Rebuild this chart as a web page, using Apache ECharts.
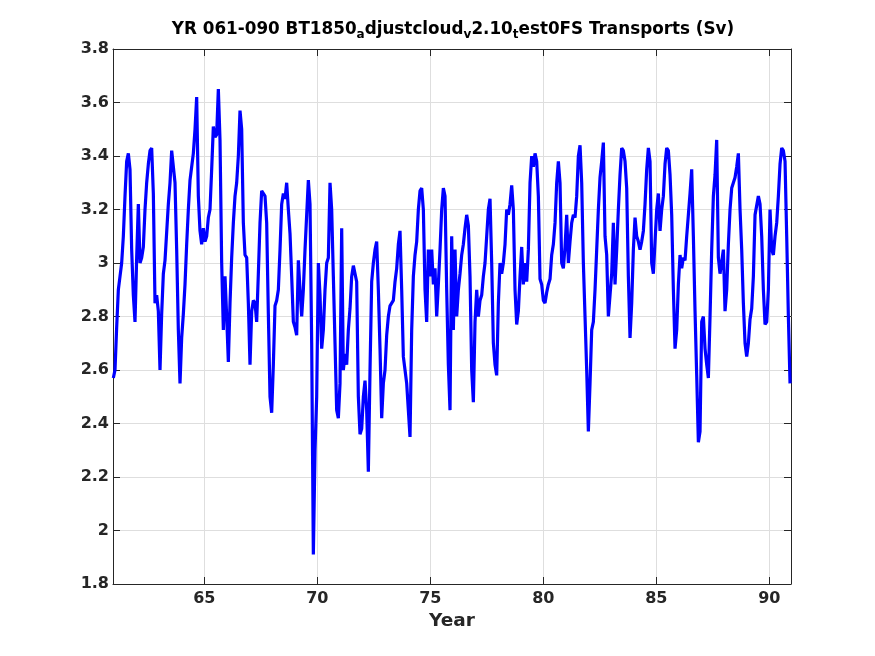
<!DOCTYPE html>
<html style="height: 100%">
<head>
  <meta charset="utf-8">
  <title>Transports (Sv)</title>
  <script type="text/javascript" src="https://fastly.jsdelivr.net/npm/echarts@6/dist/echarts.min.js"></script>
</head>
<body style="height: 100%; margin: 0; background: #fff">
  <div id="chart" style="width: 875px; height: 656px"></div>

  <script type="text/javascript">
    // transport values (Sv) at a regular time step
    var sv61to65 = [2.57, 2.6, 2.76, 2.9, 2.95, 3.0, 3.1, 3.25, 3.38, 3.41, 3.35, 3.05, 2.88, 2.78, 3.02, 3.22, 3.0, 3.02, 3.06, 3.2,
      3.3, 3.37, 3.42, 3.43, 3.26, 2.85, 2.88, 2.82, 2.6, 2.81, 2.96, 3.01, 3.01, 3.22, 3.3, 3.42, 3.42, 3.3, 3.05, 2.75,
      2.55, 2.72, 2.81, 2.92, 3.07, 3.2, 3.31, 3.36, 3.41, 3.5, 3.62, 3.25];
    var sv65to69 = [3.12, 3.07, 3.13, 3.08, 3.1, 3.17, 3.2, 3.35, 3.51, 3.47, 3.48, 3.65, 3.46, 3.0, 2.75, 2.95, 2.8, 2.63, 2.85, 3.02,
      3.15, 3.25, 3.3, 3.4, 3.57, 3.5, 3.15, 3.03, 3.02, 2.85, 2.62, 2.82, 2.86, 2.85, 2.78, 2.96, 3.15, 3.27, 3.27, 3.25,
      3.15, 2.81, 2.5, 2.44, 2.62, 2.84, 2.86, 2.9, 3.05, 3.22, 3.26, 3.24, 3.3, 3.2, 3.11, 2.95, 2.78, 2.76, 2.73, 3.01];
    var sv69to73 = [2.9, 2.8, 2.9, 3.05, 3.18, 3.31, 3.22, 2.7, 1.91, 2.3, 2.5, 3.0, 2.88, 2.68, 2.75, 2.9, 3.0, 3.02, 3.3, 3.2,
      2.95, 2.7, 2.45, 2.42, 2.55, 3.13, 2.6, 2.66, 2.62, 2.75, 2.83, 2.95, 2.99, 2.99, 2.93, 2.5, 2.36, 2.38, 2.5, 2.56,
      2.45, 2.22, 2.6, 2.93, 3.0, 3.05, 3.08, 2.9, 2.68, 2.42, 2.55, 2.6, 2.73, 2.8, 2.84, 2.84, 2.86, 2.93, 2.98, 3.07];
    var sv73to78 = [3.12, 2.9, 2.65, 2.6, 2.55, 2.45, 2.35, 2.75, 2.95, 3.03, 3.08, 3.2, 3.27, 3.28, 3.2, 2.9, 2.78, 3.05, 2.95, 3.05,
      2.92, 2.98, 2.8, 2.92, 3.05, 3.2, 3.28, 3.25, 2.9, 2.62, 2.45, 3.1, 2.75, 3.05, 2.8, 2.9, 2.96, 3.03, 3.07, 3.13,
      3.18, 3.14, 2.95, 2.6, 2.48, 2.78, 2.9, 2.8, 2.86, 2.88, 2.95, 3.0, 3.1, 3.2, 3.24, 3.0, 2.7, 2.62, 2.58, 2.85];
    var sv78to82 = [3.0, 2.96, 3.0, 3.07, 3.2, 3.18, 3.22, 3.29, 3.2, 2.9, 2.77, 2.82, 2.95, 3.06, 2.92, 3.0, 2.93, 3.05, 3.3, 3.4,
      3.36, 3.41, 3.38, 3.25, 2.94, 2.92, 2.86, 2.85, 2.89, 2.92, 2.94, 3.03, 3.07, 3.15, 3.3, 3.38, 3.3, 3.0, 2.98, 3.06,
      3.18, 3.0, 3.08, 3.15, 3.18, 3.17, 3.25, 3.4, 3.44, 3.3, 3.0, 2.8, 2.6, 2.37, 2.55, 2.75, 2.78, 2.9, 3.05, 3.2];
    var sv82to87 = [3.32, 3.38, 3.45, 3.1, 3.03, 2.8, 2.88, 2.96, 3.15, 2.92, 3.05, 3.2, 3.33, 3.43, 3.42, 3.38, 3.28, 2.95, 2.72, 2.85,
      3.05, 3.17, 3.1, 3.08, 3.05, 3.08, 3.12, 3.22, 3.35, 3.43, 3.38, 3.0, 2.96, 3.08, 3.2, 3.26, 3.12, 3.2, 3.25, 3.37,
      3.43, 3.42, 3.33, 3.18, 2.9, 2.68, 2.75, 2.92, 3.03, 2.98, 3.02, 3.01, 3.1, 3.18, 3.26, 3.35, 3.1, 2.82, 2.58, 2.33];
    var sv87to91 = [2.37, 2.78, 2.8, 2.68, 2.62, 2.57, 2.8, 3.05, 3.25, 3.33, 3.46, 3.02, 2.96, 2.96, 3.05, 2.82, 2.9, 3.07, 3.2, 3.28,
      3.3, 3.32, 3.36, 3.41, 3.2, 3.05, 2.85, 2.7, 2.65, 2.7, 2.79, 2.83, 2.95, 3.18, 3.18, 3.25, 3.22, 3.1, 2.9, 2.77,
      2.78, 2.9, 3.2, 3.05, 3.03, 3.1, 3.15, 3.25, 3.37, 3.43, 3.42, 3.38, 3.1, 2.8, 2.55];

    var yearStart = 60.975;   // first sample
    var yearStep = 0.07375;   // sampling step in years
    var xMin = 60.96, xMax = 90.96;
    var yearTicks = [65, 70, 75, 80, 85, 90];
    var titleParts = ['YR 061-090 BT1850', 'a', 'djustcloud', 'v', '2.10', 't', 'est0FS Transports (Sv)'];

    var values = [].concat(sv61to65, sv65to69, sv69to73, sv73to78, sv78to82, sv82to87, sv87to91);
    var seriesData = values.map(function (v, i) { return [yearStart + i * yearStep, v]; });

    // every second part is a subscript (tex style underscores)
    var titleText = titleParts.map(function (p, i) {
      return (i % 2 ? '{s|' : '{m|') + p + '}';
    }).join('');

    var ink = '#262626';
    var font = 'DejaVu Sans';

    var chart = echarts.init(document.getElementById('chart'));
    var tickIn = { show: true, inside: true, length: 7, lineStyle: { color: ink, width: 1 } };

    var option = {
      animation: false,
      backgroundColor: '#fff',
      grid: { left: 113, right: 84, top: 49, bottom: 72, containLabel: false },
      graphic: [{
        type: 'text',
        x: 453,
        y: 21,
        style: {
          text: titleText,
          align: 'center',
          verticalAlign: 'top',
          rich: {
            m: { fontFamily: font, fontWeight: 'bold', fontSize: 16.8, fill: '#000', lineHeight: 18, verticalAlign: 'top' },
            s: { fontFamily: font, fontWeight: 'bold', fontSize: 12, fill: '#000', lineHeight: 14, padding: [8, 0, 0, 0], verticalAlign: 'top' }
          }
        }
      }],
      xAxis: [{
        type: 'value',
        min: xMin,
        max: xMax,
        name: 'Year',
        nameLocation: 'middle',
        nameGap: 18,
        nameTextStyle: { fontFamily: font, fontWeight: 'bold', fontSize: 18.5, color: ink },
        axisLine: { show: true, onZero: false, lineStyle: { color: ink, width: 1 } },
        axisTick: Object.assign({ customValues: yearTicks }, tickIn),
        axisLabel: { customValues: yearTicks, fontFamily: font, fontWeight: 'bold', fontSize: 16, color: ink, margin: 7 },
        splitLine: { show: true, lineStyle: { color: '#dedede', width: 1 } }
      }, {
        type: 'value',
        position: 'top',
        min: xMin,
        max: xMax,
        axisLine: { show: true, onZero: false, lineStyle: { color: ink, width: 1 } },
        axisTick: Object.assign({ customValues: yearTicks }, tickIn),
        axisLabel: { show: false },
        splitLine: { show: false }
      }],
      yAxis: [{
        type: 'value',
        min: 1.8,
        max: 3.8,
        interval: 0.2,
        axisLine: { show: true, lineStyle: { color: ink, width: 1 } },
        axisTick: tickIn,
        axisLabel: { fontFamily: font, fontWeight: 'bold', fontSize: 16, color: ink, margin: 4 },
        splitLine: { show: true, lineStyle: { color: '#dedede', width: 1 } }
      }, {
        type: 'value',
        position: 'right',
        min: 1.8,
        max: 3.8,
        interval: 0.2,
        axisLine: { show: true, lineStyle: { color: ink, width: 1 } },
        axisTick: tickIn,
        axisLabel: { show: false },
        splitLine: { show: false }
      }],
      series: [{
        type: 'line',
        data: seriesData,
        showSymbol: false,
        lineStyle: { color: '#0000ff', width: 3.2 },
        itemStyle: { color: '#0000ff' },
        z: 3
      }]
    };

    chart.setOption(option);
  </script>
</body>
</html>
